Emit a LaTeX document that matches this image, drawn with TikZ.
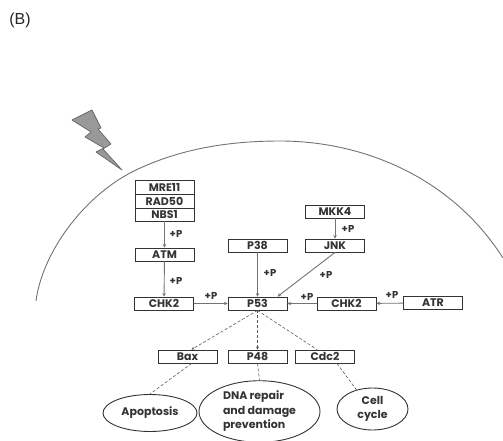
\documentclass[tikz,border=0pt]{standalone}
\usepackage{fontspec}
\setmainfont{Poppins}
\newfontfamily\labelfont{Liberation Sans}
\usetikzlibrary{arrows.meta,calc,shapes.geometric}
\definecolor{ink}{gray}{0.2}
\definecolor{wire}{gray}{0.45}
\tikzset{
  box/.style={draw=ink,line width=0.9pt,fill=white,minimum width=59pt,minimum height=13pt,inner sep=0pt,text=ink,font=\fontsize{11}{11}\selectfont\bfseries},
  oval/.style={draw=ink,line width=0.9pt,ellipse,inner sep=0pt,text=ink,align=center,font=\fontsize{11}{14.5}\selectfont\bfseries},
  plabel/.style={text=ink,inner sep=0pt,font=\fontsize{10}{10}\selectfont\bfseries},
  link/.style={draw=wire,line width=0.9pt,-{Stealth[length=3.5pt,width=3.5pt]}},
  dlink/.style={draw=black!65,line width=0.6pt,densely dashed},
  dlinka/.style={dlink,-{Stealth[length=3pt,width=3pt]}}
}
\begin{document}
\begin{tikzpicture}[x=1pt,y=-1pt]
\useasboundingbox (0,0) rectangle (503,441);
\node[text=black!85,inner sep=0pt,font=\labelfont\fontsize{16}{18}\selectfont] (panel) at (20,20) {(B)};
% cell
\draw[draw=wire,line width=0.9pt] (36,301) .. controls (42,255) and (80,200) .. (130,173) .. controls (175,150) and (225,141) .. (280,141) .. controls (360,141) and (450,175) .. (503,258);
% lightning
\fill[fill=black!40,draw=black!60,line width=0.7pt,line join=round] (72,120) -- (92,110) -- (101,128) -- (98,129) -- (111,144) -- (103,149) -- (122,170) -- (96,152) -- (104,148) -- (85,137) -- (91,132) -- cycle;
% boxes
\node[box,minimum height=14pt] (mre) at (164.5,187) {MRE11};
\node[box,minimum height=14pt] (rad) at (164.5,201) {RAD50};
\node[box] (nbs) at (164.5,214.5) {NBS1};
\node[box] (atm) at (164.5,254.5) {ATM};
\node[box] (chkl) at (164,303.5) {CHK2};
\node[box] (p53) at (257.5,303.5) {P53};
\node[box] (p38) at (257.5,245.5) {P38};
\node[box] (jnk) at (335,245.5) {JNK};
\node[box] (mkk) at (335,211.5) {MKK4};
\node[box] (chkr) at (346.5,303.5) {CHK2};
\node[box] (atr) at (433,303) {ATR};
\node[box] (bax) at (187.5,356.5) {Bax};
\node[box] (p48) at (257.5,356.5) {P48};
\node[box] (cdc) at (325,356.5) {Cdc2};
\draw[ink,line width=1.3pt] (mre.south west) -- (mre.south east);
% outcomes
\node[oval,minimum width=94pt,minimum height=37pt] (apo) at (150,413) {Apoptosis};
\node[oval,minimum width=121pt,minimum height=60pt] (dna) at (259.5,411.5) {\begin{tabular}{@{}l@{}}DNA repair\\and damage\\prevention\end{tabular}};
\node[oval,minimum width=71pt,minimum height=42pt] (cell) at (372.5,409) {Cell\\cycle};
% arrows
\draw[link] (nbs) -- (atm);
\draw[link] (atm) -- (chkl);
\draw[link] (chkl) -- (p53);
\draw[link] (p38) -- (p53);
\draw[link] (mkk) -- (jnk);
\draw[link] (jnk.south) -- ($(p53.north)+(20,0)$);
\draw[link] (chkr) -- (p53);
\draw[link] (atr) -- (chkr);
\draw[dlinka] (p53.south) -- ($(bax.north)+(4,0)$);
\draw[dlinka] (p53.south) -- (p48.north);
\draw[dlink] (p53.south) -- ($(cdc.north)+(-8,0)$);
\draw[dlink] ($(bax.south)+(4,0)$) -- (apo.north);
\draw[dlink] (p48.south) -- (dna.north);
\draw[dlink] ($(cdc.south)+(12,0)$) -- (cell.130);
% labels
\node[plabel] (p1) at (176,234) {+P};
\node[plabel] (p2) at (176,281) {+P};
\node[plabel] (p3) at (211,296) {+P};
\node[plabel] (p4) at (270,273) {+P};
\node[plabel] (p5) at (326,275) {+P};
\node[plabel] (p6) at (348,229) {+P};
\node[plabel] (p7) at (307,296.5) {+P};
\node[plabel] (p8) at (392,295) {+P};
\end{tikzpicture}
\end{document}
